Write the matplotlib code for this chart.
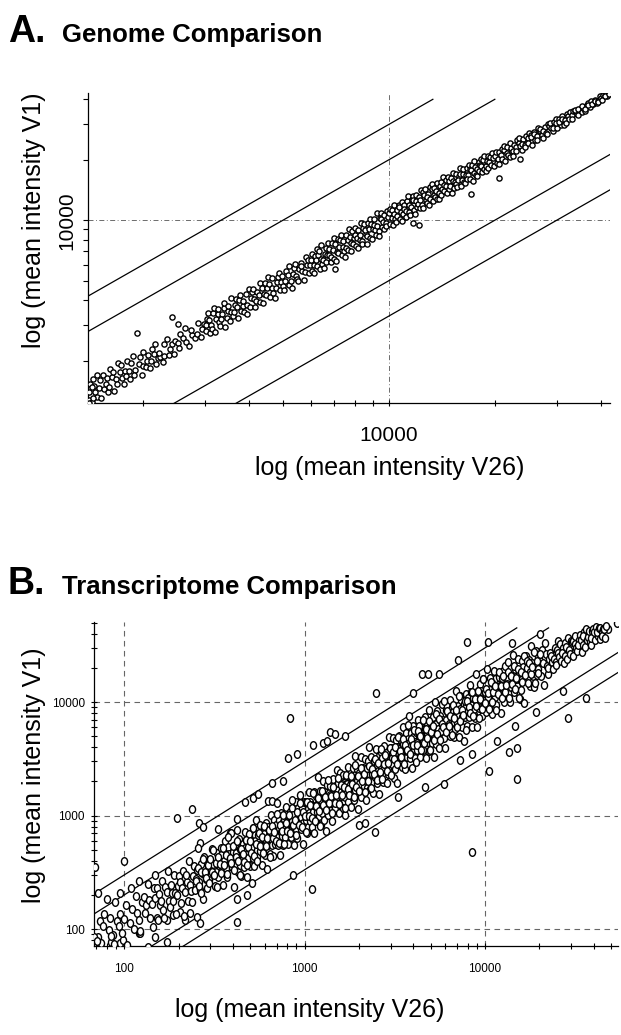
import numpy as np
import matplotlib
matplotlib.use("Agg")
import matplotlib.pyplot as plt
from matplotlib.ticker import FixedLocator, LogLocator, FuncFormatter, NullFormatter
from matplotlib.markers import MarkerStyle
from matplotlib.transforms import Affine2D

plt.rcParams['font.family'] = ['Liberation Sans', 'DejaVu Sans']

# Panel A: genome comparison, (mean intensity V26, mean intensity V1)
genome_pts = [
    (1402, 1276), (1418, 1531), (1409, 1395), (1436, 1249), (1447, 1621), (1461, 1388), (1452, 1496), (1483, 1320),
    (1476, 1697), (1502, 1457), (1521, 1308), (1514, 1605), (1548, 1440), (1537, 1691), (1569, 1538), (1588, 1397),
    (1577, 1640), (1611, 1820), (1603, 1475), (1634, 1650), (1652, 1404), (1647, 1762), (1679, 1612), (1698, 1936),
    (1690, 1521), (1722, 1756), (1741, 1637), (1735, 1891), (1768, 1538), (1779, 1779), (1802, 2000), (1795, 1669),
    (1831, 1776), (1848, 1940), (1840, 1619), (1873, 2098), (1897, 1802), (1888, 1699), (1925, 2753), (1946, 1927),
    (1961, 2079), (1983, 1705), (2004, 1884), (1998, 2198), (2036, 1853), (2061, 2123), (2049, 1988), (2088, 1837),
    (2117, 2286), (2103, 1998), (2149, 2149), (2172, 1933), (2160, 2419), (2208, 2053), (2236, 2080), (2221, 2177),
    (2274, 1978), (2302, 2417), (2289, 2106), (2344, 2555), (2381, 2286), (2366, 2129), (2425, 2425), (2461, 2510),
    (2447, 2153), (2510, 2435), (2548, 2726), (2533, 2305), (2601, 2601), (2648, 2489), (2627, 2916), (2702, 2351),
    (2751, 2696), (2733, 2842), (2806, 2582), (2861, 3090), (2840, 2698), (2915, 2624), (2978, 3038), (2951, 2862),
    (2415, 3310), (2515, 3050), (1407, 1232), (1440, 1300), (1430, 1480),
    (3012, 2801), (3041, 3223), (3025, 2995), (3070, 3438), (3102, 2730), (3088, 3181), (3131, 3006), (3160, 3444),
    (3145, 2862), (3193, 3640), (3226, 3226), (3209, 2792), (3258, 3421), (3290, 3126), (3274, 3634), (3322, 2990),
    (3357, 3424), (3340, 3240), (3391, 3662), (3425, 2946), (3408, 3851), (3460, 3252), (3497, 3532), (3479, 3723),
    (3532, 3143), (3570, 3499), (3551, 4084), (3607, 3318), (3645, 3791), (3626, 3481), (3683, 4051), (3722, 3275),
    (3703, 3703), (3761, 3987), (3800, 3534), (3781, 4235), (3840, 3725), (3882, 3494), (3861, 3977), (3921, 4274),
    (3964, 3766), (3942, 3430), (4005, 4566), (4049, 4089), (4027, 3705), (4090, 4376), (4135, 4052), (4112, 4564),
    (4177, 3718), (4223, 4392), (4200, 3948), (4266, 4266), (4313, 4874), (4289, 3903), (4357, 4618), (4405, 4273),
    (4381, 3855), (4450, 4851), (4499, 4589), (4474, 4250), (4545, 5227), (4595, 4136), (4569, 4797), (4642, 4596),
    (4693, 4364), (4667, 5180), (4741, 4077), (4793, 4937), (4767, 4576), (4842, 5229), (4895, 4503), (4868, 5452),
    (4945, 4945), (4999, 4699), (4972, 5270), (5050, 4495), (5106, 5617), (5078, 4976), (5158, 5364), (5215, 4746),
    (5186, 5912), (5268, 5005), (5326, 5379), (5297, 4608), (5380, 5757), (5440, 5277), (5410, 6059), (5495, 5110),
    (5556, 5723), (5525, 4973), (5612, 6117), (5674, 5617), (5643, 5925), (5732, 5044), (5795, 6548), (5763, 5532),
    (5854, 5971), (5919, 5445), (5886, 6357), (5980, 5980),
    (6010, 6311), (6062, 5577), (6036, 6821), (6110, 5988), (6160, 6653), (6134, 5459), (6208, 6332), (6258, 7197),
    (6231, 5919), (6307, 6748), (6358, 5722), (6330, 7026), (6408, 6408), (6460, 6072), (6431, 7524), (6511, 6316),
    (6564, 6827), (6534, 5750), (6616, 7278), (6670, 6737), (6639, 6174), (6722, 7663), (6777, 6709), (6745, 7150),
    (6830, 6215), (6886, 7712), (6853, 6579), (6940, 7148), (6997, 8117), (6963, 6406), (7051, 7615), (7110, 6968),
    (7075, 6297), (7164, 8095), (7224, 7368), (7188, 6829), (7279, 7934), (7340, 6679), (7303, 8398), (7395, 7395),
    (7457, 7010), (7420, 7865), (7513, 6536), (7576, 8409), (7538, 7312), (7633, 7938), (7697, 9082), (7658, 7122),
    (7754, 8297), (7819, 7741), (7779, 7001), (7877, 8822), (7943, 8181), (7902, 7586), (8001, 9121), (8068, 7423),
    (8026, 8427), (8127, 8127), (8195, 7294), (8152, 8967), (8255, 8007), (8324, 9656), (8280, 8446), (8385, 7882),
    (8455, 9131), (8410, 7653), (8517, 9624), (8588, 8502), (8542, 8969), (8650, 7612), (8722, 9681), (8675, 8328),
    (8785, 9049), (8858, 10187), (8810, 8193), (8922, 9547), (8996, 8996), (8947, 8052), (9061, 10148), (9136, 8953),
    (9086, 9449), (9202, 8466), (9278, 10855), (9227, 9319), (9345, 8878), (9422, 10270), (9370, 8339), (9490, 10819),
    (9568, 9281), (9515, 10086), (9637, 9830), (9716, 9036), (9662, 10628), (9786, 9688), (9866, 11149), (9811, 9320),
    (9937, 10334), (7030, 5690),
    (10020, 10822), (10098, 9593), (10058, 11366), (10175, 10277), (10253, 9433), (10213, 11234), (10332, 10745),
    (10412, 10100), (10371, 11927), (10492, 9758), (10574, 11208), (10532, 10532), (10655, 11934), (10738, 10094),
    (10696, 11659), (10821, 11037), (10905, 9924), (10862, 12383), (10989, 10769), (11075, 11850), (11031, 11362),
    (11160, 10379), (11247, 12484), (11202, 11090), (11333, 13146), (11421, 10964), (11376, 11945), (11509, 10588),
    (11599, 12643), (11552, 11668), (11688, 13207), (11779, 11190), (11731, 12552), (11869, 10682), (11962, 12440),
    (11913, 13343), (12053, 11691), (12147, 13119), (12097, 12097), (12240, 11506), (12336, 14186), (12285, 12654),
    (12430, 11933), (12527, 13780), (12475, 11477), (12623, 13380), (12721, 12594), (12669, 14316), (12818, 12177),
    (12918, 13564), (12865, 13122), (13017, 11845), (13119, 14562), (13064, 12803), (13219, 14277), (13322, 12523),
    (13267, 15124), (13424, 13424), (13529, 12988), (13472, 14415), (13632, 14041), (13739, 12777), (13681, 15323),
    (13843, 13705), (13952, 14789), (13893, 12782), (14058, 15464), (14168, 14310), (14108, 13403), (14276, 16417),
    (14388, 13956), (14327, 14900), (14497, 15802), (14611, 13588), (14548, 14839), (14722, 16489), (14838, 14244),
    (14773, 15659), (14950, 14801), (15068, 13712), (15001, 16201), (15182, 15637), (15301, 14536), (15234, 17214),
    (15417, 15417), (15538, 15072), (15469, 17016), (15656, 14717), (15779, 16568), (15708, 15865), (15899, 18125),
    (16024, 14742), (15950, 17067), (16146, 15823), (16272, 16923), (16196, 17978), (16396, 15576), (16524, 16854),
    (16446, 15295), (16650, 18149), (16781, 16781), (16700, 16032), (16908, 18937), (17041, 16019), (16958, 17975),
    (17170, 17685), (17306, 15748), (17220, 18942), (17436, 17087), (17574, 18453), (17487, 19760), (17706, 16821),
    (17847, 18025), (17757, 16514), (17981, 19419), (18124, 18849), (18032, 17491), (18260, 20269), (18405, 17301),
    (18311, 18677), (18543, 19841), (18691, 17943), (18594, 20825), (18831, 18643), (18981, 19740), (18881, 17559),
    (19123, 20844), (19276, 19469), (19173, 18214), (19420, 20585), (19575, 21533), (19469, 18885), (19721, 20313),
    (19879, 18686), (11700, 9660), (12200, 9440), (17100, 13500),
    (20040, 20842), (20230, 19219), (20130, 21942), (20420, 20216), (20610, 21847), (20510, 19074), (20810, 21226),
    (21010, 22691), (20900, 20064), (21210, 22271), (21410, 19697), (21300, 23430), (21620, 21620), (21830, 21175),
    (21710, 23230), (22040, 20718), (22250, 22918), (22130, 24122), (22470, 22021), (22690, 23825), (22560, 20981),
    (22910, 23139), (23130, 24980), (22990, 22070), (23360, 24294), (23590, 23354), (23450, 25795), (23820, 22391),
    (24060, 25504), (23910, 23910), (24300, 23571), (24540, 26258), (24380, 23161), (24790, 25534), (25040, 27294),
    (24870, 24373), (25290, 26555), (25550, 23762), (25370, 25877), (25810, 27617), (26070, 25027), (25880, 26915),
    (26340, 26340), (26610, 28739), (26410, 25090), (26880, 27686), (27160, 26617), (26950, 28567), (27430, 25784),
    (27720, 29106), (27500, 27775), (28000, 27160), (28300, 30281), (28070, 26947), (28580, 29437), (28890, 28890),
    (28650, 30369), (29180, 27721), (29500, 30680), (29250, 28665), (29790, 31875), (30120, 28915), (29860, 30457),
    (30420, 31941), (30760, 29837), (30480, 30785), (31060, 32924), (31410, 29840), (31120, 32054), (31720, 31403),
    (32080, 33684), (31780, 30509), (32390, 33038), (32760, 34726), (32450, 31801), (33080, 33411), (33460, 34798),
    (33140, 31814), (33790, 34804), (34180, 33838), (33850, 35543), (34520, 33484), (34920, 35618), (34580, 35963),
    (35270, 34565), (35680, 36037), (35330, 37097), (36030, 34949), (36460, 37554), (36090, 35729), (36810, 38282),
    (37250, 36505), (36880, 37618), (37620, 39125), (38070, 37689), (37690, 38067), (38450, 39604), (38920, 38142),
    (38520, 39290), (39300, 39300), (39790, 41382), (39370, 38583), (40170, 40572), (40680, 41900), (40250, 39848),
    (41080, 41902), (41600, 41600), (41150, 41562), (42200, 42400), (20500, 16200), (23560, 20200),
]

# Panel B: transcriptome comparison, (mean intensity V26, mean intensity V1)
transcript_pts = [
    # isolated points read individually
    (69, 350), (72, 210), (80, 185), (95, 207), (100, 400), (121, 265), (148, 300), (195, 960), (238, 1140),
    (260, 860), (274, 790), (263, 575), (331, 760), (386, 700), (423, 185), (480, 200), (423, 115), (513, 254),
    (423, 930), (468, 1310), (519, 1420), (550, 1540), (660, 1940), (760, 2000), (630, 1350), (660, 1340),
    (830, 7200), (813, 3200), (910, 3500), (860, 300), (1110, 4200), (1260, 4400), (1330, 4500), (1380, 5500),
    (1470, 5200), (1670, 5000), (1100, 225), (2490, 12000), (2000, 820), (2160, 860), (2450, 710), (3300, 1450),
    (7900, 34000), (7100, 23400), (4500, 17700), (4850, 17700), (5560, 17700), (4000, 12000), (8500, 480),
    (7250, 3100), (8500, 3500), (4650, 1780), (5900, 1900), (10400, 34000), (14100, 33000), (25300, 34500),
    (10500, 2460), (15000, 2100), (13500, 3600), (15000, 3900), (11600, 4500), (29000, 7200), (36300, 10800),
    (19100, 8100), (27000, 12600), (14700, 6200), (46000, 44700), (48000, 43700), (54000, 50000), (11300, 16000),
    (72, 85), (74, 75), (84, 77), (87, 88), (95, 75), (99, 80), (121, 92), (123, 92), (148, 85), (136, 69),
    (173, 77), (152, 125), (173, 120), (187, 133), (204, 141), (218, 120), (232, 138), (254, 127), (263, 113),
    # main cloud
    (68, 86), (70, 66), (73, 119), (71, 78), (76, 106), (79, 60), (77, 137), (82, 98), (85, 87), (83, 125),
    (88, 74), (91, 118), (89, 173), (94, 107), (97, 93), (95, 137), (100, 122), (104, 73), (102, 163), (107, 113),
    (111, 149), (109, 229), (114, 101), (118, 139), (116, 197), (121, 121), (125, 173), (123, 97), (128, 191),
    (132, 164), (130, 140), (135, 251), (139, 126), (137, 181), (142, 165), (146, 228), (144, 104), (149, 189),
    (151, 230), (155, 203), (153, 121), (158, 163), (162, 267), (160, 178), (165, 147), (169, 237), (167, 125),
    (172, 213), (176, 176), (174, 322), (179, 156), (183, 209), (181, 243), (186, 177), (191, 208), (188, 301),
    (194, 136), (198, 238), (196, 200), (201, 291), (206, 171), (203, 260), (209, 230), (214, 131), (211, 325),
    (217, 213), (222, 262), (219, 302), (225, 176), (231, 245), (228, 397), (234, 215), (240, 293), (237, 175),
    (243, 362), (249, 279), (246, 221), (253, 329), (259, 262), (256, 522), (262, 223), (269, 315), (266, 375),
    (272, 185), (279, 299), (276, 433), (283, 275), (290, 363), (286, 229), (294, 391), (301, 331), (297, 273),
    (305, 509), (313, 329), (309, 374), (317, 241), (325, 468), (321, 318), (329, 382), (337, 391), (333, 286),
    (342, 513), (350, 354), (346, 446), (355, 245), (364, 593), (359, 395), (368, 346), (378, 525), (373, 287),
    (382, 455), (392, 698), (387, 406), (397, 349),
    (401, 481), (408, 416), (404, 234), (412, 548), (419, 369), (415, 465), (423, 740), (430, 318), (426, 417),
    (434, 616), (441, 366), (437, 503), (445, 294), (453, 562), (449, 462), (457, 411), (465, 721), (461, 350),
    (469, 516), (477, 463), (473, 615), (481, 289), (490, 519), (485, 422), (494, 682), (503, 599), (498, 359),
    (507, 477), (516, 774), (511, 516), (520, 421), (530, 673), (525, 357), (534, 603), (544, 495), (539, 906),
    (548, 433), (558, 580), (553, 675), (563, 484), (573, 567), (568, 824), (578, 370), (588, 641), (583, 542),
    (593, 783), (604, 453), (598, 694), (609, 609), (620, 341), (614, 860), (625, 556), (636, 681), (630, 788),
    (641, 455), (653, 627), (647, 1022), (658, 553), (670, 744), (664, 445), (676, 913), (688, 702), (681, 558),
    (693, 818), (706, 650), (699, 1293), (712, 548), (725, 769), (718, 919), (730, 453), (744, 722), (737, 1054),
    (750, 660), (763, 870), (756, 552), (769, 930), (783, 783), (776, 652), (790, 1201), (804, 764), (796, 876),
    (810, 559), (825, 1081), (817, 735), (832, 874), (847, 889), (839, 654), (854, 1161), (870, 800), (861, 1007),
    (877, 553), (893, 1322), (884, 884), (900, 765), (917, 1155), (908, 636), (924, 998), (941, 1524), (932, 885),
    (949, 759), (966, 1159), (957, 976), (974, 565), (992, 1319), (983, 865),
    (1004, 1054), (1020, 918), (1012, 1326), (1028, 709), (1045, 1150), (1036, 984), (1053, 1601), (1070, 899),
    (1061, 1061), (1078, 1304), (1096, 800), (1087, 1239), (1105, 972), (1123, 1606), (1114, 1081), (1132, 702),
    (1151, 1473), (1141, 1209), (1160, 893), (1179, 2181), (1169, 1075), (1189, 1403), (1208, 991), (1198, 1222),
    (1218, 1644), (1238, 829), (1228, 1363), (1248, 1048), (1269, 2005), (1258, 1208), (1279, 908), (1300, 1625),
    (1289, 1379), (1311, 1167), (1333, 1866), (1322, 727), (1344, 1344), (1366, 1585), (1355, 1016), (1378, 1819),
    (1401, 1303), (1389, 1514), (1412, 904), (1435, 2081), (1423, 1409), (1447, 1244), (1471, 1795), (1459, 1517),
    (1483, 1172), (1508, 2533), (1495, 1360), (1520, 1718), (1545, 1051), (1532, 1946), (1558, 1262), (1584, 1600),
    (1571, 2357), (1597, 1501), (1624, 1169), (1610, 1916), (1637, 2259), (1664, 1448), (1650, 1749), (1678, 1007),
    (1706, 2218), (1692, 1641), (1720, 1892), (1749, 1329), (1734, 2688), (1763, 1587), (1792, 1846), (1777, 2203),
    (1807, 1193), (1837, 2113), (1822, 1512), (1852, 2630), (1883, 1845), (1867, 1382), (1898, 3322), (1930, 2162),
    (1914, 1684), (1946, 2588), (1978, 1147), (1962, 2001), (1994, 2393), (2028, 1622), (2011, 1910), (2044, 3311),
    (2078, 2244), (2061, 1443), (2095, 2640), (2130, 1811), (2113, 2113), (2148, 3179), (2184, 1376), (2166, 2534),
    (2202, 2026), (2239, 3045), (2220, 1732), (2257, 2370), (2295, 2570), (2276, 3983), (2314, 1712), (2352, 2305),
    (2333, 3313), (2372, 1969), (2411, 2773), (2392, 1579), (2431, 3014), (2472, 2546), (2451, 2206), (2492, 3863),
    (2534, 1926), (2513, 2764), (2555, 2478), (2597, 3376), (2576, 1546), (2619, 2776), (2663, 2317), (2641, 3645),
    (2685, 3195), (2730, 1966), (2707, 2545), (2752, 4128), (2798, 2826), (2775, 2248), (2821, 3583), (2868, 1950),
    (2844, 3214), (2892, 2632), (2940, 4939), (2916, 2304), (2964, 3083),
    (3010, 3973), (3058, 2844), (3034, 3246), (3085, 4843), (3136, 2164), (3110, 3670), (3163, 3163), (3216, 4599),
    (3189, 2583), (3244, 4055), (3299, 3563), (3271, 1930), (3327, 5024), (3383, 3248), (3354, 3891), (3412, 4606),
    (3470, 2672), (3440, 3578), (3499, 5983), (3559, 3239), (3528, 4234), (3589, 2584), (3650, 5329), (3619, 3981),
    (3681, 3276), (3744, 4755), (3711, 3674), (3775, 7550), (3840, 3187), (3806, 4339), (3872, 5343), (3938, 2638),
    (3904, 4099), (3971, 6115), (4039, 3837), (4004, 4925), (4073, 3218), (4143, 5427), (4107, 4436), (4177, 3801),
    (4249, 6968), (4212, 4338), (4285, 5099), (4358, 3269), (4320, 6091), (4394, 4262), (4470, 5051), (4431, 5007),
    (4507, 3786), (4585, 6740), (4545, 4500), (4623, 5825), (4702, 3197), (4661, 7458), (4742, 5121), (4823, 4437),
    (4781, 6502), (4863, 3696), (4947, 5788), (4903, 8580), (4988, 5138), (5073, 4363), (5029, 6538), (5116, 5628),
    (5204, 3279), (5159, 7429), (5248, 4986), (5338, 6459), (5291, 10000), (5382, 4306), (5475, 5804), (5427, 8303),
    (5521, 4969), (5616, 6964), (5567, 3953), (5663, 7588), (5760, 6394), (5710, 5539), (5808, 9699), (5908, 4845),
    (5857, 6970), (5958, 6256), (6060, 8484), (6007, 3905), (6111, 6967), (6216, 5843), (6162, 9181), (6268, 8086),
    (6376, 4973), (6320, 6446), (6429, 10415), (6540, 7129), (6483, 5640), (6594, 9034), (6708, 4897), (6649, 8112),
    (6764, 6629), (6880, 12453), (6820, 5797), (6938, 7771), (7057, 9315), (6995, 6505), (7116, 7614), (7238, 11364),
    (7175, 4951), (7299, 8613), (7425, 7425), (7359, 10523), (7487, 6064), (7616, 9520), (7549, 8153), (7679, 4531),
    (7811, 11795), (7742, 7432), (7876, 9136), (8012, 10816), (7941, 6115), (8078, 8401), (8218, 14053), (8145, 7412),
    (8286, 9943), (8429, 6069), (8354, 12197), (8499, 9349), (8646, 7695), (8569, 10883), (8717, 8630), (8868, 17736),
    (8789, 7295), (8941, 10193), (9096, 12552), (9015, 6040), (9171, 9630), (9330, 14368), (9247, 8785), (9407, 11571),
    (9570, 7560), (9485, 12425), (9649, 10421), (9816, 8933), (9729, 15956), (9897, 10194),
    (10050, 12161), (10250, 19373), (10150, 8120), (10410, 11035), (10620, 16249), (10510, 9459), (10780, 13367),
    (10990, 7803), (10880, 14579), (11160, 12388), (11380, 11039), (11270, 18821), (11550, 9471), (11780, 14018),
    (11660, 12243), (11960, 16744), (12200, 7930), (12070, 13760), (12380, 11637), (12630, 18819), (12500, 16125),
    (12820, 10000), (13080, 13342), (12940, 20963), (13270, 14464), (13540, 11780), (13400, 18358), (13740, 10030),
    (14010, 17092), (13870, 13593), (14220, 25738), (14510, 12334), (14360, 16083), (14720, 19430), (15020, 13969),
    (14860, 15900), (15240, 23927), (15550, 10730), (15380, 18148), (15770, 15770), (16090, 23009), (15920, 12895),
    (16330, 20413), (16660, 17993), (16480, 9723), (16900, 25519), (17240, 16550), (17060, 19790), (17490, 23612),
    (17840, 13737), (17650, 18356), (18100, 30951), (18460, 16799), (18270, 21924), (18730, 13486), (19110, 27901),
    (18910, 20801), (19390, 17257), (19780, 25121), (19570, 19374), (20060, 40120), (20470, 16990), (20250, 23085),
    (20760, 28649), (21190, 14197), (20960, 22008), (21490, 33095), (21930, 20834), (21700, 26691), (22240, 17570),
    (22700, 23835), (22460, 19765), (23020, 27164), (23490, 22316), (23240, 25564), (23830, 19541), (24310, 29658),
    (24050, 24050), (24660, 22441), (25160, 28682), (24890, 21157), (25520, 27306), (26040, 32550), (25760, 24987),
    (26410, 22977), (26950, 30184), (26660, 27193), (27340, 21872), (27890, 33189), (27590, 25659), (28290, 30553),
    (28870, 36954), (28560, 23990), (29280, 28987), (29880, 34661), (29560, 26308), (30310, 33644), (30930, 25672),
    (30590, 34567), (31370, 32311), (32010, 30089), (31660, 38309), (32470, 27924), (33130, 35118), (32770, 32115),
    (33600, 38640), (34290, 27775), (33910, 35266), (34780, 31998), (35490, 41523), (35100, 38259), (36000, 30600),
    (36730, 35261), (36330, 43596), (37260, 37633), (38020, 33458), (37600, 42488), (38570, 32013), (39350, 42105),
    (38920, 36974), (39920, 43912), (40730, 35435), (40280, 41086), (41320, 45865), (42160, 37944), (41690, 41273),
    (42760, 44898), (43640, 35785), (43150, 45308), (44260, 41604), (45160, 43805), (44660, 38408), (45810, 43978),
    (46740, 46740), (46220, 36976),
    # second pass over the dense part of the cloud
    (250, 268), (256, 342), (259, 241), (265, 320), (268, 210), (275, 418), (279, 316), (283, 281), (290, 369),
    (294, 253), (300, 417), (306, 320), (310, 493), (316, 302), (322, 380), (327, 236), (333, 436), (340, 377),
    (345, 312), (352, 515), (358, 369), (365, 451), (371, 304), (378, 651), (385, 420), (392, 379), (399, 543),
    (407, 330), (414, 436), (422, 596), (430, 398), (437, 301), (446, 509), (454, 462), (462, 394), (471, 610),
    (480, 369), (488, 528), (498, 596), (507, 465), (516, 776), (526, 439), (536, 561), (545, 398), (556, 709),
    (566, 545), (577, 642), (587, 472), (598, 811), (610, 541), (620, 634), (632, 741), (644, 435), (656, 803),
    (668, 631), (680, 724), (693, 597), (706, 1041), (718, 572), (732, 832), (745, 733), (760, 1002), (773, 558),
    (788, 858), (802, 728), (817, 1022), (832, 698), (848, 1358), (863, 827), (880, 916), (896, 680), (912, 1077),
    (930, 830), (946, 1293), (964, 796), (982, 1084), (1000, 999), (1019, 715), (1037, 1330), (1057, 984),
    (1076, 1236), (1097, 959), (1116, 1594), (1138, 898), (1158, 1225), (1180, 1421), (1202, 1101), (1224, 814),
    (1247, 1635), (1270, 1241), (1293, 1446), (1318, 1119), (1342, 2061), (1367, 1300), (1392, 1488), (1418, 1046),
    (1445, 1800), (1471, 1297), (1499, 1517), (1527, 2126), (1555, 1258), (1584, 1847), (1613, 1515), (1643, 1781),
    (1674, 1162), (1705, 2286), (1736, 1731), (1769, 1518), (1801, 2213), (1835, 1901), (1869, 1445), (1903, 2776),
    (1939, 1786), (1975, 2230), (2011, 1643), (2049, 2606), (2087, 2022), (2125, 2310), (2165, 1628), (2205, 2642),
    (2246, 2017), (2288, 2741), (2330, 1752), (2374, 2581), (2417, 2342), (2462, 3132), (2508, 2049), (2555, 2885),
    (2602, 2396), (2650, 3866), (2700, 2087), (2750, 2849), (2801, 3442), (2853, 2448), (2906, 2897), (2960, 3969),
    (3015, 2261), (3071, 3596), (3128, 3172), (3186, 4011), (3245, 2836), (3306, 4969), (3367, 3680), (3429, 3268),
    (3493, 4702), (3558, 2836), (3624, 4186), (3691, 3791), (3760, 6238), (3830, 3512), (3901, 4709), (3973, 4192),
    (4047, 5730), (4122, 2960), (4199, 4153), (4277, 5560), (4356, 4979), (4437, 3780), (4519, 6968), (4603, 4345),
    (4689, 5819), (4776, 4800), (4864, 6741), (4955, 3756), (5047, 5446), (5140, 6127), (5236, 4671), (5333, 7872),
    (5432, 5236), (5533, 7055), (5636, 4622), (5740, 6452), (5847, 6052), (5955, 10302), (6066, 5496), (6178, 8346),
    (6293, 6173), (6410, 7538), (6529, 5093), (6650, 9463), (6773, 7200), (6899, 8472), (7027, 6050), (7158, 11403),
    (7291, 6781), (7426, 8532), (7564, 7723), (7704, 10185), (7847, 5728), (7993, 10119), (8141, 8996), (8292, 7944),
    (8446, 12365), (8603, 7467), (8763, 10533), (8925, 9282), (9091, 12518), (9260, 7306), (9432, 10658), (9607, 8656),
    (9785, 15881), (9967, 9867), (10152, 13127), (10340, 12067), (10532, 8731), (10728, 15019), (10927, 10064),
    (11130, 12221), (11336, 13977), (11547, 8591), (11761, 11749), (11980, 18270), (12202, 13874), (12429, 10900),
    (12660, 16926), (12895, 12237), (13134, 14053), (13378, 22622), (13626, 10955), (13879, 16849), (14137, 14293),
    (14400, 20693), (14667, 13010), (14939, 16269), (15217, 19539), (15499, 10958), (15787, 18281), (16080, 15067),
    (16379, 25600), (16683, 17150), (16993, 23195), (17308, 14591), (17630, 22038), (17957, 17508), (18291, 20358),
    (18630, 27815), (18976, 14593), (19328, 22884), (19687, 18014), (20053, 26269),
]

fold_changes = [3, 2, 1 / 2, 1 / 3]
a_minor_ticks = [2000, 3000, 4000, 5000, 6000, 7000, 8000, 9000, 20000, 30000, 40000]
a_major_ticks = [10000]
b_major_ticks = [100, 1000, 10000]

W, H = 621, 1035
fig = plt.figure(figsize=(W / 100, H / 100), dpi=100)


def fx(px):
    return px / W


def fy(py):
    return 1 - py / H


int_fmt = FuncFormatter(lambda v, p: f"{v:.0f}")

# ---------------- Panel A ----------------
axA = fig.add_axes([fx(88), fy(403), fx(610) - fx(88), fy(93) - fy(403)])
axA.set_xscale('log')
axA.set_yscale('log')
axA.set_xlim(1396, 42500)
axA.set_ylim(1230, 43000)

xa, ya = np.array(genome_pts).T
axA.scatter(xa, ya, s=14, facecolors='white', edgecolors='black', linewidths=1.0, zorder=3)

for k in fold_changes:
    x_end = min(42500, 40000 / k)
    xs = np.array([1396, x_end])
    axA.plot(xs, xs * k, color='black', lw=0.9, zorder=2)

axA.axvline(10000, color='#555555', lw=0.6, dashes=(6, 3, 1, 3), zorder=1)
axA.axhline(10000, color='#555555', lw=0.6, dashes=(6, 3, 1, 3), zorder=1)

for spine in ['top', 'right']:
    axA.spines[spine].set_visible(False)
for spine in ['left', 'bottom']:
    axA.spines[spine].set_linewidth(0.9)

for axis in (axA.xaxis, axA.yaxis):
    axis.set_major_locator(FixedLocator(a_major_ticks))
    axis.set_minor_locator(FixedLocator(a_minor_ticks))
    axis.set_major_formatter(int_fmt)
    axis.set_minor_formatter(NullFormatter())
axA.tick_params(axis='x', which='both', direction='inout', length=5, width=0.8, labelsize=15, pad=14)
axA.tick_params(axis='y', which='both', direction='out', length=3.5, width=0.8, labelsize=15, pad=5)
for lab in axA.get_yticklabels():
    lab.set_rotation(90)
    lab.set_va('center')

# ---------------- Panel B ----------------
axB = fig.add_axes([fx(94), fy(946), fx(618) - fx(94), fy(622) - fy(946)])
axB.set_xscale('log')
axB.set_yscale('log')
axB.set_xlim(68, 54600)
axB.set_ylim(71, 50700)

xb, yb = np.array(transcript_pts).T
oval = MarkerStyle('o', transform=Affine2D().scale(0.8, 1.0))
axB.scatter(xb, yb, s=30, marker=oval, facecolors='white', edgecolors='black', linewidths=1.0, zorder=3)

for k in fold_changes:
    x_end = min(54600, 45000 / k)
    xs = np.array([68, x_end])
    axB.plot(xs, xs * k, color='black', lw=0.9, zorder=2)

for v in b_major_ticks:
    axB.axvline(v, color='#666666', lw=0.8, dashes=(5, 4), zorder=1)
    axB.axhline(v, color='#666666', lw=0.8, dashes=(5, 4), zorder=1)

for spine in ['top', 'right']:
    axB.spines[spine].set_visible(False)
for spine in ['left', 'bottom']:
    axB.spines[spine].set_linewidth(0.9)

for axis in (axB.xaxis, axB.yaxis):
    axis.set_major_locator(FixedLocator(b_major_ticks))
    axis.set_minor_locator(LogLocator(base=10, subs=range(2, 10)))
    axis.set_major_formatter(int_fmt)
    axis.set_minor_formatter(NullFormatter())
axB.tick_params(axis='both', which='both', direction='inout', length=5, width=0.8, labelsize=8.5, pad=4)
for lab in axB.get_xticklabels() + axB.get_yticklabels():
    lab.set_family(['Liberation Sans Narrow', 'Liberation Sans'])
axB.tick_params(axis='x', pad=10)

# ---------------- titles and axis labels ----------------
fig.text(fx(8), fy(42), "A.", fontsize=27, fontweight='bold', va='baseline')
fig.text(fx(62), fy(42), "Genome Comparison", fontsize=18.5, fontweight='bold', va='baseline')
fig.text(fx(8), fy(594), "B.", fontsize=27, fontweight='bold', va='baseline')
fig.text(fx(62), fy(594), "Transcriptome Comparison", fontsize=18.5, fontweight='bold', va='baseline')

fig.text(fx(34), fy(220), "log (mean intensity V1)", fontsize=18, rotation=90, ha='center', va='center')
fig.text(fx(390), fy(468), "log (mean intensity V26)", fontsize=18, ha='center', va='center')
fig.text(fx(34), fy(775), "log (mean intensity V1)", fontsize=18, rotation=90, ha='center', va='center')
fig.text(fx(310), fy(1010), "log (mean intensity V26)", fontsize=18, ha='center', va='center')

fig.savefig("out.png", dpi=100, facecolor='white')
